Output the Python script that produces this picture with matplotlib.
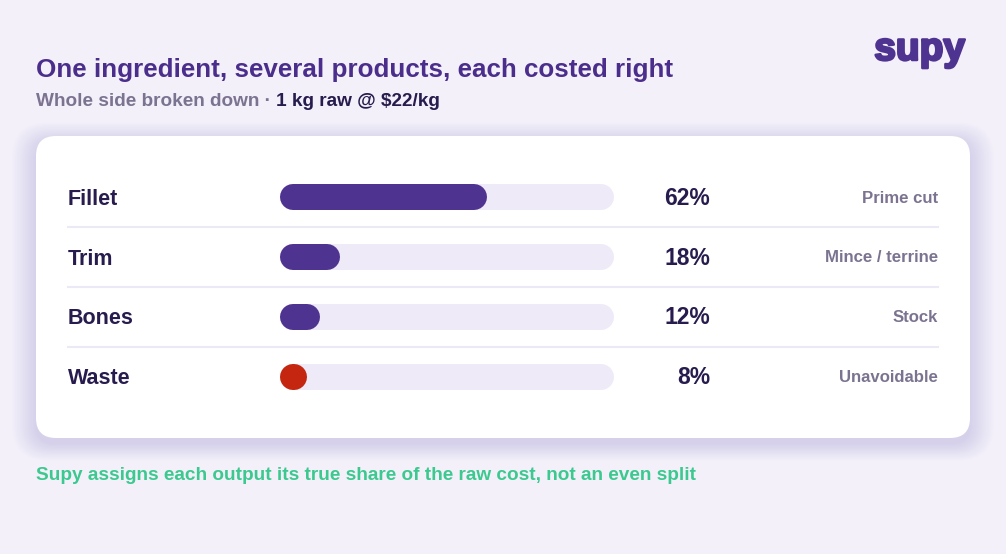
import matplotlib
matplotlib.use("Agg")
import matplotlib.pyplot as plt
import matplotlib.patheffects as pe
from matplotlib.patches import FancyBboxPatch
from matplotlib.transforms import blended_transform_factory

plt.rcParams['font.family'] = ['Liberation Sans', 'DejaVu Sans']

# data
products = ['Fillet', 'Trim', 'Bones', 'Waste']
shares = [62, 18, 12, 8]
uses = ['Prime cut', 'Mince / terrine', 'Stock', 'Unavoidable']
bar_colors = ['#4f3390', '#4f3390', '#4f3390', '#c4260f']

title = 'One ingredient, several products, each costed right'
sub_grey = 'Whole side broken down · '
sub_dark = '1 kg raw @ $22/kg'
footer = 'Supy assigns each output its true share of the raw cost, not an even split'

W, H = 1006, 554
bg = '#f3f0fa'
purple = '#4b2e8c'
dark = '#271c4d'
grey = '#7b7390'
track = '#eeeaf8'

fig = plt.figure(figsize=(W / 100, H / 100), dpi=100)
fig.patch.set_facecolor(bg)

# background axes in pixel coordinates
ax = fig.add_axes([0, 0, 1, 1])
ax.set_xlim(0, W)
ax.set_ylim(H, 0)
ax.axis('off')

# card shadow + card
for k in range(16):
    ax.add_patch(FancyBboxPatch((36 - k * 1.6, 142 - k * 1.3), 934 + k * 3.2, 302 + k * 2.4,
                                boxstyle='round,pad=0,rounding_size=%g' % (20 + k),
                                fc='#5a48a0', ec='none', alpha=0.0065, zorder=1))
ax.add_patch(FancyBboxPatch((36, 136), 934, 302, boxstyle='round,pad=0,rounding_size=20',
                            fc='white', ec='none', zorder=2))

# bar axes: x 0..100 maps onto the track (280..614 px)
ax_bar = fig.add_axes([280 / W, (H - 407) / H, 334 / W, 240 / H])
ax_bar.set_xlim(0, 100)
ax_bar.set_ylim(len(products) - 0.5, -0.5)
ax_bar.axis('off')
ax_bar.patch.set_alpha(0)

lw_pt = 26 * 72 / 100          # 26 px thick bars
cap = 13 / 3.34                 # round cap radius in data units
for i, (v, c) in enumerate(zip(shares, bar_colors)):
    ax_bar.plot([cap, 100 - cap], [i, i], color=track, lw=lw_pt,
                solid_capstyle='round', zorder=3)
    ax_bar.plot([cap, max(v - cap, cap + 0.01)], [i, i], color=c, lw=lw_pt,
                solid_capstyle='round', zorder=4)

tr = blended_transform_factory(ax.transData, ax_bar.transData)
off = 7.5 / 60
for i, (p, v, u) in enumerate(zip(products, shares, uses)):
    ax.text(68, i + off, p, transform=tr, fontsize=15.5, fontweight='bold', color=dark,
            va='baseline', ha='left', zorder=5)
    ax.text(710, i + off, '%d%%' % v, transform=tr, fontsize=16.5, fontweight='bold', color=dark,
            va='baseline', ha='right', zorder=5)
    ax.text(938, i + 5.5 / 60, u, transform=tr, fontsize=12.1, fontweight='bold', color=grey,
            va='baseline', ha='right', zorder=5)
    if i < len(products) - 1:
        ax.plot([68, 938], [i + 0.5, i + 0.5], transform=tr, color='#ece8f5', lw=1.5, zorder=5)

# titles
ax.text(36, 77, title, fontsize=18.7, fontweight='bold', color=purple, va='baseline', ha='left')
t1 = ax.text(36, 106, sub_grey, fontsize=13.65, fontweight='bold', color=grey, va='baseline', ha='left')
fig.canvas.draw()
bb = t1.get_window_extent()
x_end = ax.transData.inverted().transform((bb.x1, bb.y0))[0]
ax.text(x_end, 106, sub_dark, fontsize=13.65, fontweight='bold', color=dark, va='baseline', ha='left')

ax.text(36, 480, footer, fontsize=13.7, fontweight='bold', color='#3cc98f', va='baseline', ha='left')

# logo
ax.text(965, 60, 'supy', fontsize=28, fontweight='bold', color='#4f3390', va='baseline', ha='right',
        path_effects=[pe.withStroke(linewidth=1.8, foreground='#4f3390')])

fig.savefig('out.png', dpi=100, facecolor=bg)
